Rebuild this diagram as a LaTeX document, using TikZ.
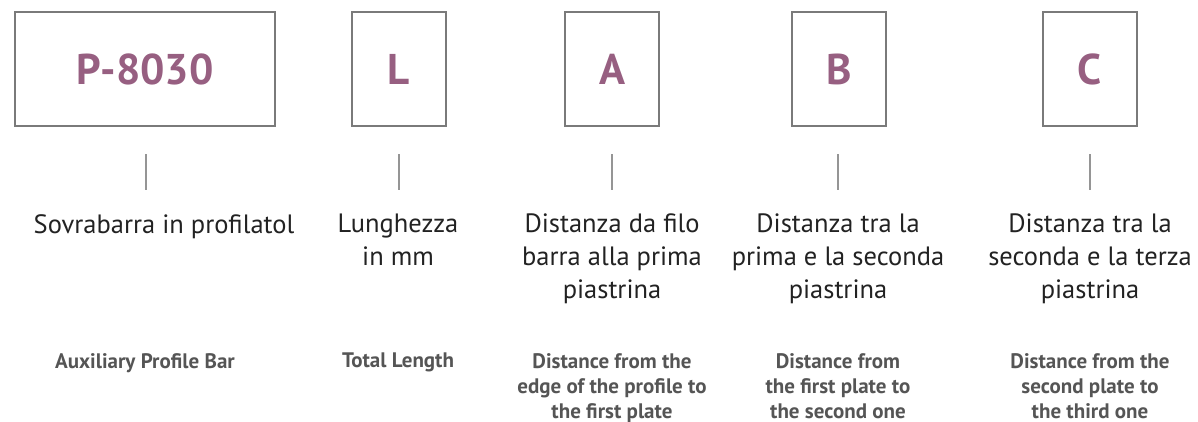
\documentclass[tikz,border=0pt]{standalone}
\usepackage{fontspec}
\setmainfont{PT Sans}
\definecolor{plum}{HTML}{975F81}
\definecolor{boxgray}{HTML}{7A7A7A}
\definecolor{ittext}{HTML}{222222}
\definecolor{entext}{HTML}{555555}
\begin{document}
\begin{tikzpicture}[x=1pt,y=-1pt,
  codebox/.style={draw=boxgray,line width=1.8pt,minimum height=114pt,inner sep=0pt,
    text=plum,font=\fontsize{43}{43}\selectfont\bfseries},
  tick/.style={draw=boxgray!80,line width=1.2pt},
  itlabel/.style={align=center,text=ittext,font=\fontsize{26.5}{33}\selectfont,anchor=north,inner sep=0pt},
  enlabel/.style={align=center,text=entext,font=\fontsize{21}{25}\selectfont\bfseries,anchor=north,inner sep=0pt}]
\useasboundingbox (0,0) rectangle (1198,421);
\node[codebox,minimum width=260pt] (bp) at (145,69) {P-8030};
\node[codebox,minimum width=94pt] (bl) at (399,69) {L};
\node[codebox,minimum width=94pt] (ba) at (612,69) {A};
\node[codebox,minimum width=94pt] (bb) at (839,69) {B};
\node[codebox,minimum width=94pt] (bc) at (1090,69) {C};
\foreach \n/\x in {p/146,l/399,a/612,b/838,c/1090}{
  \coordinate (t\n1) at (\x,154);
  \coordinate (t\n2) at (\x,190);
  \draw[tick] (t\n1) -- (t\n2);
}
\node[itlabel] (ip) at (164,214) {Sovrabarra in profilatol};
\node[itlabel] (il) at (398,214) {Lunghezza\\in mm};
\node[itlabel] (ia) at (612,214) {Distanza da filo\\barra alla prima\\piastrina};
\node[itlabel] (ib) at (838,214) {Distanza tra la\\prima e la seconda\\piastrina};
\node[itlabel] (ic) at (1090,214) {Distanza tra la\\seconda e la terza\\piastrina};
\node[enlabel] (ep) at (145,353) {Auxiliary Profile Bar};
\node[enlabel] (el) at (398,353) {Total Length};
\node[enlabel] (ea) at (612,353) {Distance from the\\edge of the profile to\\the first plate};
\node[enlabel] (eb) at (838,353) {Distance from\\the first plate to\\the second one};
\node[enlabel] (ec) at (1090,353) {Distance from the\\second plate to\\the third one};
\end{tikzpicture}
\end{document}
